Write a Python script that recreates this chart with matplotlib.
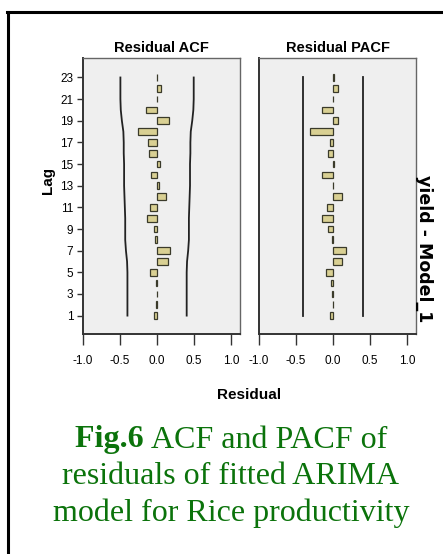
import numpy as np
import matplotlib
matplotlib.use('Agg')
import matplotlib.pyplot as plt

plt.rcParams['font.family'] = ['Liberation Sans Narrow', 'Liberation Sans', 'DejaVu Sans']

# ============================================
# data
# ============================================
lags = list(range(1, 24))
acf_vals = [-0.04, -0.01, 0.0, -0.02, -0.095, 0.15, 0.17, -0.03, -0.045, -0.13,
            -0.10, 0.12, 0.03, -0.085, 0.045, -0.11, -0.12, -0.26, 0.16, -0.155,
            0.0, 0.06, 0.0]
pacf_vals = [-0.04, -0.005, -0.01, -0.03, -0.10, 0.125, 0.17, -0.02, -0.07, -0.15,
             -0.085, 0.125, 0.0, -0.15, 0.01, -0.07, -0.045, -0.315, 0.06, -0.145,
             0.0, 0.07, 0.01]
acf_limit = [0.40, 0.40, 0.40, 0.40, 0.40, 0.405, 0.42, 0.43, 0.43, 0.43,
             0.435, 0.44, 0.445, 0.445, 0.445, 0.45, 0.45, 0.455, 0.475, 0.49,
             0.495, 0.495, 0.495]
pacf_limit = [0.40] * 23

x_ticks = [-1.0, -0.5, 0.0, 0.5, 1.0]
x_labels = ['-1.0', '-0.5', '0.0', '0.5', '1.0']
y_ticks = list(range(1, 24, 2))

W, H = 443, 554
fig = plt.figure(figsize=(W / 100, H / 100), dpi=100)

bar_color = '#d9d093'
edge_color = '#3a3a2a'


def panel(left_px, title, vals, limit):
    ax = fig.add_axes([left_px / W, 1 - 334 / H, 157 / W, 276 / H])
    ax.set_facecolor('#efefef')
    ax.barh(lags, vals, height=0.62, color=bar_color, edgecolor=edge_color, linewidth=0.9, zorder=3)
    lim = np.array(limit)
    ax.plot(lim, lags, color='#222222', lw=1.3, zorder=2)
    ax.plot(-lim, lags, color='#222222', lw=1.3, zorder=2)
    ax.set_xlim(-1.0, 1.12)
    ax.set_ylim(-0.7, 24.8)
    ax.set_xticks(x_ticks)
    ax.set_xticklabels(x_labels)
    ax.set_yticks(y_ticks)
    ax.tick_params(axis='both', labelsize=8.5, color='#333333', width=1.0, length=4, pad=3)
    ax.tick_params(axis='x', length=8, pad=7)
    for s in ['top', 'right']:
        ax.spines[s].set_color('#666666')
        ax.spines[s].set_linewidth(1.0)
    for s in ['left', 'bottom']:
        ax.spines[s].set_color('#333333')
        ax.spines[s].set_linewidth(1.4)
    ax.set_title(title, fontsize=10.5, fontweight='bold', pad=4)
    return ax


ax1 = panel(83, 'Residual ACF', acf_vals, acf_limit)
ax2 = panel(259, 'Residual PACF', pacf_vals, pacf_limit)
ax2.set_yticklabels([])
ax2.tick_params(axis='y', length=0)

fig.text(48 / W, 1 - 180 / H, 'Lag', rotation=90, fontsize=11, fontweight='bold',
         ha='center', va='center')
fig.text(424 / W, 1 - 249 / H, 'yield - Model_1', rotation=-90, fontsize=12.5, fontweight='bold',
         ha='center', va='center', family=['DejaVu Sans'])
fig.text(249 / W, 1 - 395 / H, 'Residual', fontsize=11, fontweight='bold',
         ha='center', va='center')

# caption
green = '#0b730b'
serif = ['Liberation Serif', 'DejaVu Serif']
cap_size = 23
t1 = fig.text(230 / W, 1 - 440 / H, 'Fig.6 ', fontsize=cap_size, fontweight='bold', color=green,
              family=serif, ha='left', va='center')
t2 = fig.text(230 / W, 1 - 440 / H, 'ACF and PACF of', fontsize=cap_size, color=green,
              family=serif, ha='left', va='center')
fig.canvas.draw()
r = fig.canvas.get_renderer()
w1 = t1.get_window_extent(r).width
w2 = t2.get_window_extent(r).width
x0 = 231 - (w1 + w2) / 2
t1.set_x(x0 / W)
t2.set_x((x0 + w1) / W)
fig.text(231 / W, 1 - 477 / H, 'residuals of fitted ARIMA', fontsize=cap_size, color=green,
         family=serif, ha='center', va='center')
fig.text(231 / W, 1 - 513 / H, 'model for Rice productivity', fontsize=cap_size, color=green,
         family=serif, ha='center', va='center')

# frame lines of the page
fig.add_artist(plt.Line2D([8 / W, 8 / W], [0, 1 - 12 / H], color='black', lw=2.2))
fig.add_artist(plt.Line2D([7 / W, 1], [1 - 12 / H, 1 - 12 / H], color='black', lw=2.2))

plt.savefig('out.png', dpi=100)
